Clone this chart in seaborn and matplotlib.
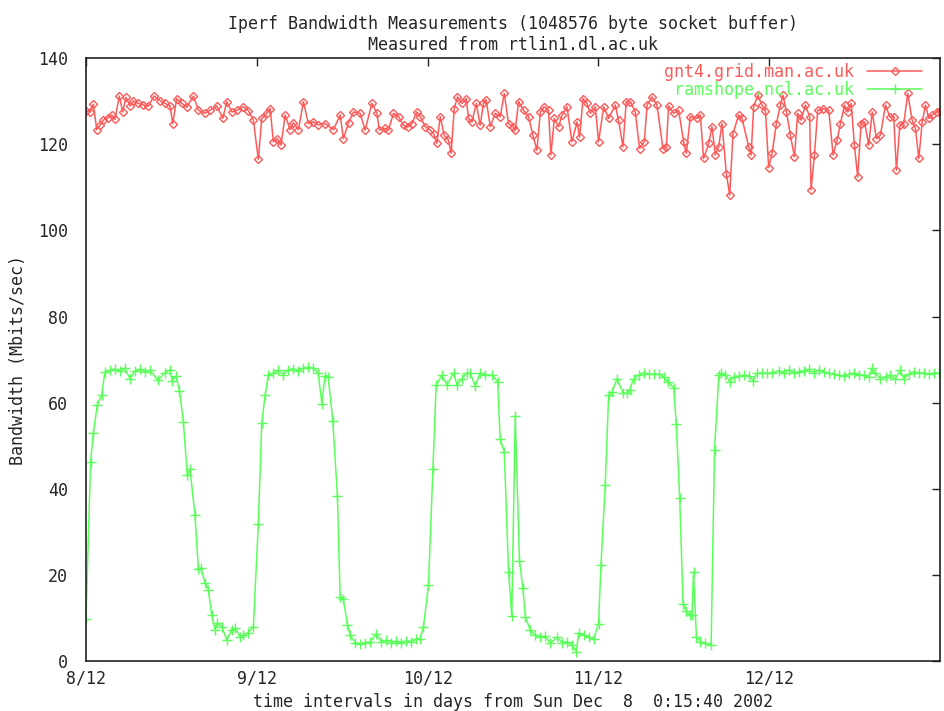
import numpy as np
import seaborn as sns
import matplotlib.pyplot as plt
import pandas as pd

# days since 8/12 00:00 and bandwidth (Mbits/sec)
gnt4_days = [0.0, 0.023, 0.043, 0.063, 0.082, 0.101, 0.131, 0.151, 0.170, 0.195, 0.215, 0.234,
             0.258, 0.277, 0.306, 0.336, 0.365, 0.398, 0.434, 0.463, 0.492, 0.508, 0.531, 0.561,
             0.590, 0.629, 0.658, 0.697, 0.726, 0.766, 0.801, 0.824, 0.854, 0.883, 0.922, 0.951,
             0.980, 1.009, 1.029, 1.059, 1.078, 1.097, 1.121, 1.142, 1.166, 1.195, 1.214, 1.244,
             1.273, 1.302, 1.332, 1.361, 1.400, 1.449, 1.488, 1.507, 1.537, 1.566, 1.605, 1.634,
             1.674, 1.703, 1.718, 1.752, 1.771, 1.800, 1.830, 1.859, 1.888, 1.908, 1.937, 1.957,
             1.986, 2.015, 2.035, 2.054, 2.074, 2.097, 2.122, 2.138, 2.156, 2.175, 2.201, 2.226,
             2.240, 2.260, 2.285, 2.308, 2.327, 2.343, 2.367, 2.396, 2.425, 2.449, 2.474, 2.500,
             2.513, 2.533, 2.562, 2.591, 2.617, 2.640, 2.660, 2.683, 2.708, 2.722, 2.742, 2.767,
             2.787, 2.816, 2.845, 2.875, 2.890, 2.910, 2.933, 2.953, 2.982, 3.001, 3.031, 3.060,
             3.099, 3.118, 3.144, 3.163, 3.187, 3.216, 3.241, 3.269, 3.285, 3.314, 3.343, 3.378,
             3.398, 3.411, 3.441, 3.470, 3.499, 3.515, 3.538, 3.578, 3.597, 3.616, 3.646, 3.665,
             3.685, 3.704, 3.724, 3.749, 3.769, 3.788, 3.821, 3.841, 3.880, 3.894, 3.909, 3.933,
             3.958, 3.978, 3.997, 4.017, 4.042, 4.066, 4.081, 4.101, 4.124, 4.148, 4.167, 4.187,
             4.212, 4.237, 4.245, 4.265, 4.284, 4.316, 4.349, 4.374, 4.398, 4.417, 4.441, 4.460,
             4.480, 4.499, 4.518, 4.538, 4.558, 4.583, 4.603, 4.628, 4.651, 4.681, 4.706, 4.729,
             4.745, 4.765, 4.788, 4.811, 4.837, 4.856, 4.876, 4.896, 4.915, 4.935, 4.954, 4.983,
             5.0]
gnt4_mbps = [127.8, 127.5, 129.3, 123.4, 124.4, 125.6, 126.2, 126.8, 125.8, 131.2, 127.5, 130.9,
             128.9, 130.1, 129.5, 129.1, 128.9, 131.2, 130.1, 129.5, 128.9, 124.8, 130.6, 129.5,
             128.6, 131.2, 127.9, 127.2, 127.9, 128.9, 126.0, 129.9, 127.5, 127.9, 128.7, 127.8,
             125.6, 116.5, 126.0, 127.2, 128.3, 120.6, 121.3, 119.8, 126.8, 123.4, 125.0, 123.4,
             129.9, 124.8, 125.2, 124.5, 124.8, 123.4, 126.8, 121.3, 125.0, 127.5, 127.2, 123.3,
             129.5, 127.2, 123.3, 123.7, 123.3, 127.2, 126.4, 124.4, 124.1, 124.8, 127.5, 126.4,
             124.1, 123.3, 122.5, 120.2, 126.4, 122.1, 121.0, 117.9, 128.3, 131.0, 129.5, 130.6,
             126.0, 125.2, 129.5, 124.4, 129.5, 130.3, 124.1, 127.2, 126.4, 131.8, 124.8, 124.1,
             123.3, 129.9, 127.9, 126.4, 122.1, 118.6, 127.5, 128.7, 127.9, 117.5, 126.0, 124.1,
             126.8, 128.7, 120.6, 125.2, 121.7, 130.6, 129.5, 127.2, 128.7, 120.6, 128.7, 126.0,
             129.1, 125.6, 119.4, 129.9, 129.9, 127.5, 119.0, 120.6, 129.1, 131.0, 129.1, 119.0,
             119.4, 128.9, 127.2, 127.9, 120.6, 117.9, 126.4, 126.0, 126.8, 116.7, 120.2, 124.1,
             117.5, 119.4, 124.8, 113.2, 108.2, 122.5, 126.8, 126.0, 119.4, 117.5, 128.7, 131.4,
             129.1, 127.8, 114.6, 117.9, 124.8, 129.1, 131.4, 127.5, 122.1, 117.1, 127.2, 125.6,
             129.1, 126.4, 109.4, 117.5, 127.9, 128.3, 127.9, 117.5, 121.0, 124.8, 129.1, 127.5,
             129.5, 119.8, 112.4, 124.8, 125.2, 119.8, 127.5, 121.3, 122.1, 129.1, 126.4, 126.4,
             114.0, 124.4, 124.8, 131.8, 125.6, 123.7, 116.7, 125.2, 129.1, 126.0, 126.8, 127.5,
             127.8]

ramshope_days = [0.0, 0.027, 0.043, 0.066, 0.092, 0.111, 0.141, 0.170, 0.199, 0.228, 0.258, 0.287,
                 0.316, 0.346, 0.375, 0.422, 0.463, 0.492, 0.504, 0.527, 0.547, 0.570, 0.593, 0.609,
                 0.638, 0.658, 0.672, 0.697, 0.717, 0.736, 0.756, 0.766, 0.795, 0.824, 0.854, 0.873,
                 0.902, 0.922, 0.951, 0.980, 1.009, 1.029, 1.049, 1.068, 1.097, 1.125, 1.154, 1.183,
                 1.213, 1.242, 1.271, 1.300, 1.330, 1.359, 1.381, 1.400, 1.418, 1.445, 1.472, 1.488,
                 1.507, 1.531, 1.547, 1.576, 1.605, 1.634, 1.664, 1.699, 1.728, 1.757, 1.787, 1.816,
                 1.845, 1.875, 1.904, 1.933, 1.957, 1.976, 2.005, 2.031, 2.050, 2.084, 2.113, 2.152,
                 2.172, 2.201, 2.230, 2.250, 2.279, 2.308, 2.337, 2.377, 2.410, 2.425, 2.449, 2.474,
                 2.493, 2.513, 2.538, 2.558, 2.572, 2.601, 2.630, 2.660, 2.689, 2.718, 2.757, 2.787,
                 2.816, 2.845, 2.871, 2.884, 2.913, 2.943, 2.972, 3.001, 3.015, 3.040, 3.060, 3.080,
                 3.109, 3.144, 3.168, 3.183, 3.206, 3.236, 3.265, 3.294, 3.323, 3.353, 3.382, 3.405,
                 3.441, 3.456, 3.476, 3.496, 3.515, 3.534, 3.548, 3.557, 3.574, 3.597, 3.627, 3.660,
                 3.680, 3.705, 3.718, 3.743, 3.769, 3.792, 3.821, 3.851, 3.880, 3.906, 3.929, 3.958,
                 3.988, 4.017, 4.056, 4.085, 4.114, 4.144, 4.173, 4.202, 4.231, 4.261, 4.290, 4.319,
                 4.349, 4.378, 4.407, 4.436, 4.466, 4.495, 4.524, 4.554, 4.583, 4.603, 4.622, 4.651,
                 4.681, 4.710, 4.739, 4.765, 4.788, 4.817, 4.847, 4.876, 4.905, 4.934, 4.964, 4.993]
ramshope_mbps = [9.8, 46.3, 53.0, 59.4, 61.8, 67.2, 67.5, 67.8, 67.3, 68.0, 65.5, 67.4,
                 67.8, 67.2, 67.5, 65.2, 67.0, 67.6, 65.0, 66.2, 62.8, 55.6, 43.2, 44.6,
                 33.9, 21.4, 21.6, 18.2, 16.5, 10.7, 7.2, 8.8, 8.0, 4.9, 7.2, 7.6,
                 5.6, 6.0, 6.6, 8.0, 31.8, 55.2, 61.8, 66.4, 66.9, 67.5, 66.5, 67.6,
                 67.9, 67.3, 68.0, 68.2, 68.0, 67.0, 59.8, 66.3, 66.0, 55.8, 38.4, 14.9,
                 14.3, 8.4, 6.0, 4.2, 4.0, 4.3, 4.4, 6.3, 4.5, 4.8, 4.3, 4.6,
                 4.2, 4.7, 4.5, 5.0, 5.2, 8.0, 17.6, 44.7, 64.0, 66.4, 64.1, 66.9,
                 64.1, 65.6, 66.8, 66.8, 63.9, 66.9, 66.4, 66.4, 64.9, 51.5, 48.6, 20.7,
                 10.4, 56.9, 23.3, 16.9, 10.3, 7.2, 6.0, 5.6, 5.8, 4.1, 5.5, 4.3,
                 4.5, 3.7, 2.2, 6.4, 6.0, 5.6, 5.0, 8.7, 22.3, 40.9, 61.8, 62.5,
                 65.6, 62.2, 62.2, 62.9, 65.6, 66.4, 66.9, 66.6, 66.6, 66.6, 66.0, 64.9,
                 63.5, 55.0, 37.8, 13.2, 11.5, 10.7, 10.7, 20.7, 5.6, 4.5, 4.1, 3.7,
                 49.1, 66.4, 66.8, 66.4, 64.9, 66.0, 66.2, 66.4, 66.2, 65.1, 66.8, 66.9,
                 66.8, 66.9, 67.4, 66.8, 67.6, 66.8, 67.2, 67.4, 67.7, 66.9, 67.6, 67.2,
                 66.8, 66.6, 66.4, 66.2, 66.6, 66.9, 66.4, 66.4, 66.0, 68.0, 66.8, 65.6,
                 66.0, 66.4, 65.4, 67.6, 65.6, 66.6, 67.2, 66.8, 66.9, 66.6, 66.9, 66.8]

day_ticks = [0, 1, 2, 3, 4]
day_labels = ["8/12", "9/12", "10/12", "11/12", "12/12"]
y_ticks = [0, 20, 40, 60, 80, 100, 120, 140]

red = "#ff5a5a"
green = "#5aff5a"

sns.set_style("white")
plt.rcParams['font.family'] = ['DejaVu Sans Mono']
plt.rcParams['font.size'] = 12

fig = plt.figure(figsize=(9.45, 7.11), dpi=100)
ax = fig.add_axes([0.091, 0.0703, 0.9037, 0.8479])

gnt4 = pd.DataFrame({"day": gnt4_days, "bw": gnt4_mbps})
ramshope = pd.DataFrame({"day": ramshope_days, "bw": ramshope_mbps})

sns.lineplot(data=gnt4, x="day", y="bw", ax=ax, color=red, linewidth=1.1,
             marker="D", markersize=4, markerfacecolor="none", markeredgecolor=red,
             markeredgewidth=1.0, label="gnt4.grid.man.ac.uk")
sns.lineplot(data=ramshope, x="day", y="bw", ax=ax, color=green, linewidth=1.1,
             marker="+", markersize=7, markeredgecolor=green, markeredgewidth=1.0,
             label="ramshope.ncl.ac.uk")

ax.set_xlim(0, 5)
ax.set_ylim(0, 140)
ax.set_xticks(day_ticks)
ax.set_xticklabels(day_labels)
ax.set_yticks(y_ticks)
ax.tick_params(direction="in", top=True, right=True, length=6, width=1, color="#222222",
               labelsize=12)
ax.tick_params(axis="x", pad=6)
ax.tick_params(axis="y", pad=13)
for s in ax.spines.values():
    s.set_color("#222222")
    s.set_linewidth(1.2)

ax.set_xlabel("time intervals in days from Sun Dec  8  0:15:40 2002", fontsize=12, labelpad=4)
ax.set_ylabel("Bandwidth (Mbits/sec)", fontsize=12, labelpad=8)
ax.set_title("Iperf Bandwidth Measurements (1048576 byte socket buffer)\nMeasured from rtlin1.dl.ac.uk",
             fontsize=12, pad=6, linespacing=1.2)

leg = ax.legend(loc="upper right", bbox_to_anchor=(0.985, 1.0), frameon=False,
                markerfirst=False, labelcolor="linecolor", handlelength=3.3,
                fontsize=12, labelspacing=0.0, borderaxespad=0.0, borderpad=0.3)

fig.savefig("out.png", dpi=100, facecolor="white")
